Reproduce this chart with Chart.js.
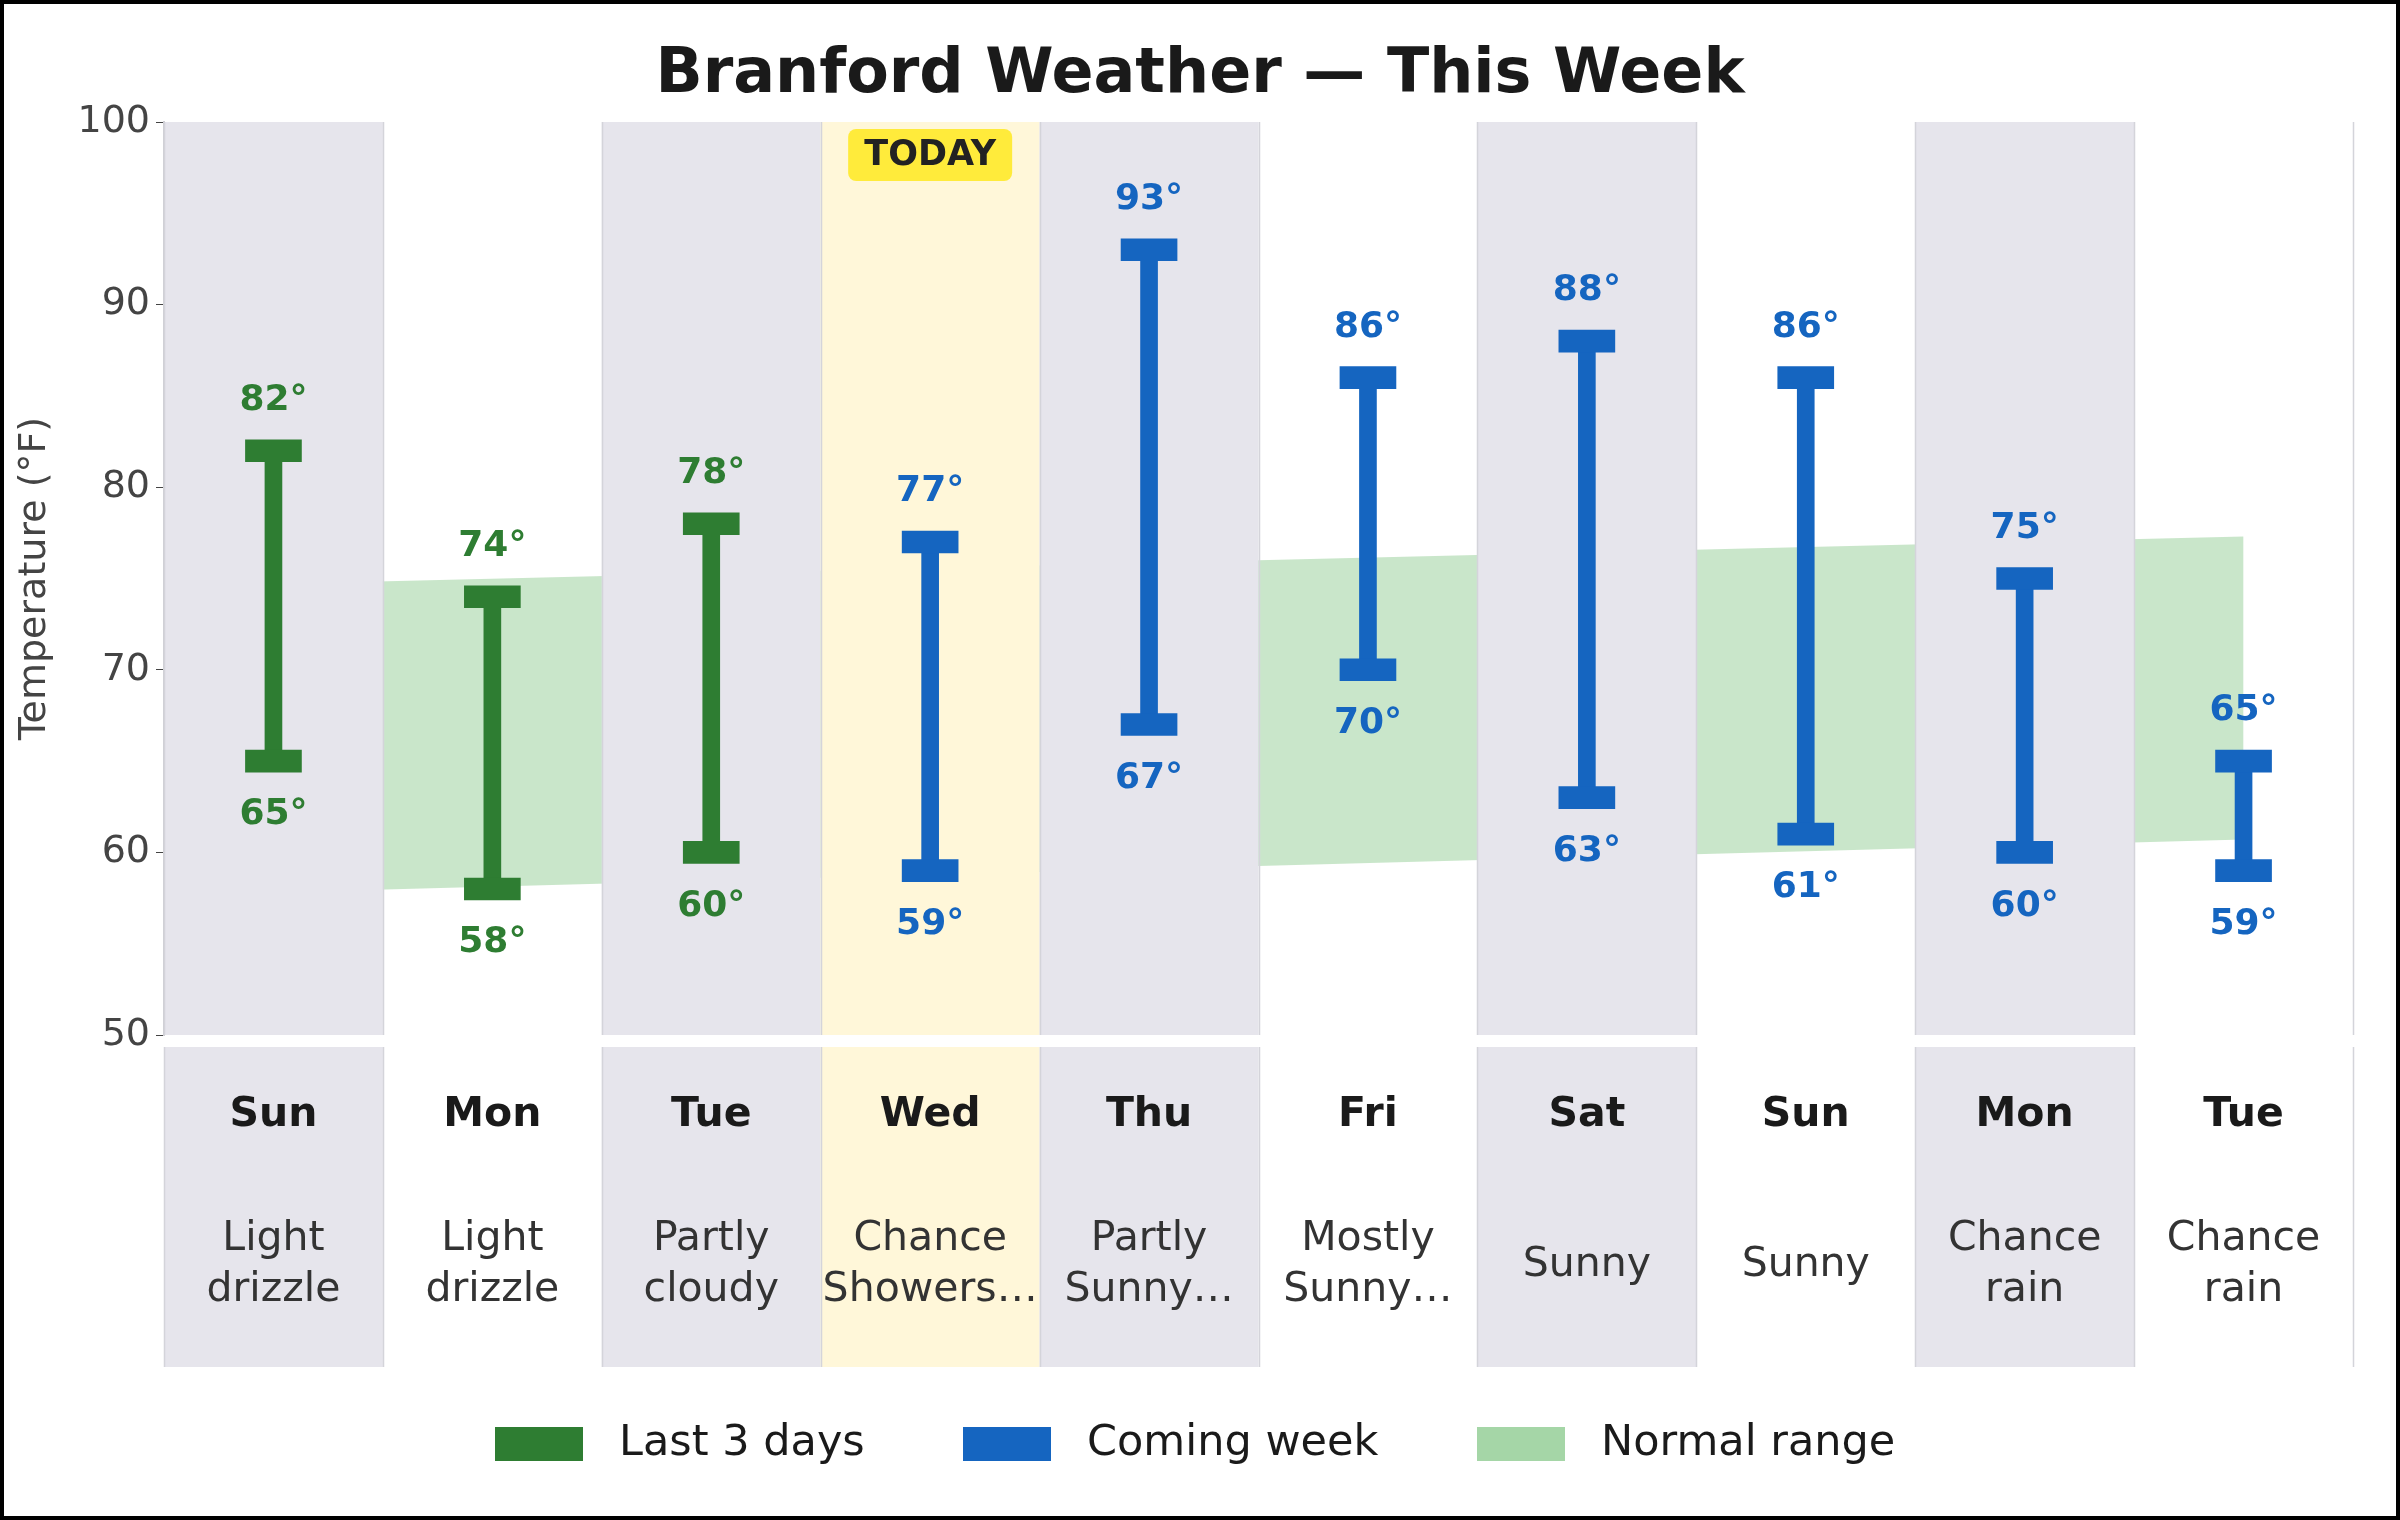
<!DOCTYPE html>
<html>
<head>
<meta charset="utf-8">
<script src="https://cdn.jsdelivr.net/npm/chart.js@4/dist/chart.umd.min.js"></script>
<style>
  html, body { margin: 0; padding: 0; background: #fff; }
  #wrap { width: 2400px; height: 1520px; box-sizing: border-box; border: 4px solid #000; }
  canvas { display: block; }
</style>
</head>
<body>
<div id="wrap"><canvas id="chart" width="2392" height="1512"></canvas></div>
<script>
"use strict";

const days = ["Sun", "Mon", "Tue", "Wed", "Thu", "Fri", "Sat", "Sun", "Mon", "Tue"];
const conditions = [
  ["Light", "drizzle"], ["Light", "drizzle"], ["Partly", "cloudy"], ["Chance", "Showers…"],
  ["Partly", "Sunny…"], ["Mostly", "Sunny…"], ["Sunny"], ["Sunny"], ["Chance", "rain"], ["Chance", "rain"],
];
const highs = [82, 74, 78, 77, 93, 86, 88, 86, 75, 65];
const lows = [65, 58, 60, 59, 67, 70, 63, 61, 60, 59];
const pastDays = 3;       // first three columns are observed
const todayIndex = 3;
const normalLow = [57.8, 60.7];   // at first and last column
const normalHigh = [74.7, 77.3];
const yTicks = [50, 60, 70, 80, 90, 100];

const GREEN = "#2e7d32";
const BLUE = "#1565c0";
const BAND = "rgba(165,214,167,0.6)";
const CAP = 0.6;
const FONT = "'DejaVu Sans', sans-serif";

const labels = days.map((d, i) => `${d}-${i}`);
const isPast = (i) => i < pastDays;
const pick = (arr, past) => arr.map((v, i) => (isPast(i) === past ? v : null));
const stems = (past) => highs.map((h, i) => (isPast(i) === past ? [lows[i], h] : null));
const caps = (arr, past) => pick(arr, past).map((v) => (v === null ? null : [v - CAP, v + CAP]));
const bandLine = (ends) => [{ x: labels[0], y: ends[0] }, { x: labels[labels.length - 1], y: ends[1] }];

const barDs = (data, color, thickness, order) => ({
  type: "bar", data, backgroundColor: color, barThickness: thickness,
  grouped: false, skipNull: true, order,
});

const columnsPlugin = {
  id: "columns",
  beforeDatasetsDraw(chart) {
    const { ctx, chartArea: a, scales: { x } } = chart;
    const w = x.getPixelForValue(1) - x.getPixelForValue(0);
    const panelTop = a.bottom + 12, panelBottom = a.bottom + 332;
    ctx.save();
    days.forEach((d, i) => {
      const left = x.getPixelForValue(i) - w / 2;
      let fill = null;
      if (i === todayIndex) fill = "#fff7d9";
      else if (i % 2 === 0) fill = "#e6e5ec";
      if (fill) {
        ctx.fillStyle = fill;
        ctx.fillRect(left, a.top, w, a.bottom - a.top);
        ctx.fillRect(left, panelTop, w, panelBottom - panelTop);
      }
    });
    ctx.strokeStyle = "#d4d4da";
    ctx.lineWidth = 1.5;
    for (let i = 0; i <= days.length; i++) {
      const px = Math.round(x.getPixelForValue(0) - w / 2 + i * w) + 0.5;
      ctx.beginPath(); ctx.moveTo(px, a.top); ctx.lineTo(px, a.bottom); ctx.stroke();
      ctx.beginPath(); ctx.moveTo(px, panelTop); ctx.lineTo(px, panelBottom); ctx.stroke();
    }
    ctx.restore();
  },
  afterDatasetsDraw(chart) {
    const { ctx, chartArea: a, scales: { x, y } } = chart;
    ctx.save();
    ctx.textAlign = "center";
    ctx.textBaseline = "middle";
    // value labels
    ctx.font = `bold 36px ${FONT}`;
    days.forEach((d, i) => {
      const px = x.getPixelForValue(i);
      ctx.fillStyle = isPast(i) ? GREEN : BLUE;
      ctx.fillText(`${highs[i]}°`, px, y.getPixelForValue(highs[i]) - 50);
      ctx.fillText(`${lows[i]}°`, px, y.getPixelForValue(lows[i]) + 54);
    });
    // TODAY badge
    const tx = x.getPixelForValue(todayIndex), ty = a.top + 33;
    ctx.fillStyle = "#ffeb3b";
    ctx.beginPath(); ctx.roundRect(tx - 82, ty - 26, 164, 52, 8); ctx.fill();
    ctx.fillStyle = "#222";
    ctx.font = `bold 35px ${FONT}`;
    ctx.fillText("TODAY", tx, ty + 1);
    // lower panel text
    days.forEach((d, i) => {
      const px = x.getPixelForValue(i);
      ctx.fillStyle = "#1a1a1a";
      ctx.font = `bold 41px ${FONT}`;
      ctx.fillText(d, px, a.bottom + 80);
      ctx.fillStyle = "#333";
      ctx.font = `41px ${FONT}`;
      const c = conditions[i];
      if (c.length === 1) ctx.fillText(c[0], px, a.bottom + 230);
      else {
        ctx.fillText(c[0], px, a.bottom + 204);
        ctx.fillText(c[1], px, a.bottom + 255);
      }
    });
    // title
    ctx.fillStyle = "#1a1a1a";
    ctx.font = `bold 62px ${FONT}`;
    ctx.fillText("Branford Weather — This Week", 1196, 72);
    // legend
    const items = [["Last 3 days", GREEN, 491], ["Coming week", BLUE, 959], ["Normal range", "#a5d6a7", 1473]];
    ctx.textAlign = "left";
    ctx.font = `43px ${FONT}`;
    items.forEach(([label, color, lx]) => {
      ctx.fillStyle = color;
      ctx.fillRect(lx, 1440 - 17, 88, 34);
      ctx.fillStyle = "#1a1a1a";
      ctx.fillText(label, lx + 124, 1440);
    });
    ctx.restore();
  },
};

new Chart(document.getElementById("chart"), {
  data: {
    labels,
    datasets: [
      { type: "line", data: bandLine(normalLow), borderWidth: 0, pointRadius: 0, fill: false, order: 10 },
      { type: "line", data: bandLine(normalHigh), borderWidth: 0, pointRadius: 0,
        fill: "-1", backgroundColor: BAND, order: 9 },
      barDs(stems(true), GREEN, 17, 5),
      barDs(stems(false), BLUE, 17, 5),
      barDs(caps(highs, true), GREEN, 56, 4),
      barDs(caps(lows, true), GREEN, 56, 4),
      barDs(caps(highs, false), BLUE, 56, 4),
      barDs(caps(lows, false), BLUE, 56, 4),
    ],
  },
  options: {
    responsive: false,
    animation: false,
    layout: { padding: { left: 6, right: 43, top: 118, bottom: 481 } },
    scales: {
      x: { display: false, offset: true, grid: { display: false } },
      y: {
        min: yTicks[0], max: yTicks[yTicks.length - 1],
        afterBuildTicks: (s) => { s.ticks = yTicks.map((v) => ({ value: v })); },
        afterFit: (s) => { s.width = 154; },
        grid: { drawOnChartArea: false, drawTicks: true, tickLength: 8, color: "#444" },
        border: { color: "#cfcfd4", width: 2 },
        ticks: { color: "#444", font: { family: FONT, size: 38 }, padding: 6 },
        title: { display: true, text: "Temperature (°F)", color: "#444", font: { family: FONT, size: 38 }, padding: 2 },
      },
    },
    plugins: {
      legend: { display: false },
      tooltip: { enabled: false },
      filler: { drawTime: "beforeDatasetsDraw" },
    },
  },
  plugins: [columnsPlugin],
});
</script>
</body>
</html>
